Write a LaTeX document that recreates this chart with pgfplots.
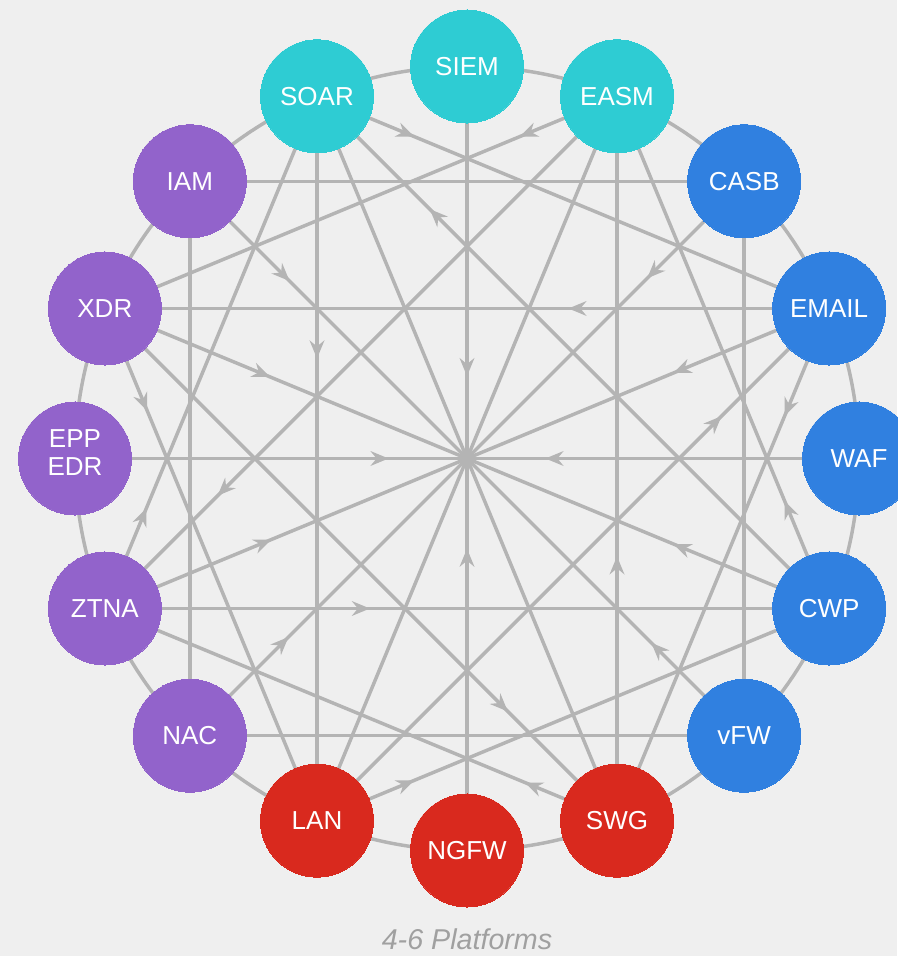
\documentclass[border=0pt]{standalone}
\usepackage{fontspec}
\setmainfont{Liberation Sans}
\usepackage{pgfplots}
\pgfplotsset{compat=1.18}
\usetikzlibrary{decorations.markings, arrows.meta}
\definecolor{bgc}{HTML}{EFEFEF}
\definecolor{edgec}{HTML}{B4B4B4}
\definecolor{teal1}{HTML}{2ECCD3}
\definecolor{blue1}{HTML}{3080E0}
\definecolor{red1}{HTML}{D9291E}
\definecolor{purp1}{HTML}{9263CB}
\definecolor{titlec}{HTML}{A0A0A0}
\newcommand{\eppedr}{EPP\\EDR\rule[-9pt]{0pt}{9pt}}
\begin{document}
\begin{tikzpicture}[x=1pt,y=1pt]
\fill[bgc] (0,0) rectangle (672.75,717);
\begin{axis}[at={(0,0)}, anchor=south west,
  width=672.75pt, height=717pt, scale only axis, hide axis,
  xmin=-1.19133, xmax=1.09694, ymin=-1.26913, ymax=1.16964, clip=false,
  ln/.style={color=edgec, line width=2.6pt},
  arr/.style={postaction={decorate}, decoration={markings, mark=at position #1 with {\arrow[edgec]{Stealth[length=13.5pt,width=11pt,inset=4.5pt]}}}},
  gnode/.style={only marks, mark=*, mark size=42.4pt,
    mark options={fill=#1, draw=#1, line width=0pt},
    point meta=explicit symbolic, nodes near coords,
    every node near coord/.append style={anchor=center, text=white, align=center,
      font=\fontsize{19.5pt}{21pt}\selectfont, inner sep=0pt}},
]
% radial lines (node -> hub)
\addplot[ln, arr=0.79] coordinates {(0,1) (0,0)};                 % SIEM
\addplot[ln] coordinates {(0.38268,0.92388) (0,0)};                % EASM
\addplot[ln, arr=0.35] coordinates {(0.70711,0.70711) (0,0)};      % CASB
\addplot[ln, arr=0.43] coordinates {(0.92388,0.38268) (0,0)};      % EMAIL
\addplot[ln, arr=0.80] coordinates {(1,0) (0,0)};                  % WAF
\addplot[ln, arr=0.43] coordinates {(0.92388,-0.38268) (0,0)};     % CWP
\addplot[ln, arr=0.335] coordinates {(0.70711,-0.70711) (0,0)};    % vFW
\addplot[ln] coordinates {(0.38268,-0.92388) (0,0)};               % SWG
\addplot[ln, arr=0.77] coordinates {(0,-1) (0,0)};                 % NGFW
\addplot[ln] coordinates {(-0.38268,-0.92388) (0,0)};              % LAN
\addplot[ln, arr=0.356] coordinates {(-0.70711,-0.70711) (0,0)};   % NAC
\addplot[ln, arr=0.46] coordinates {(-0.92388,-0.38268) (0,0)};    % ZTNA
\addplot[ln, arr=0.80] coordinates {(-1,0) (0,0)};                 % EPP/EDR
\addplot[ln, arr=0.456] coordinates {(-0.92388,0.38268) (0,0)};    % XDR
\addplot[ln, arr=0.36] coordinates {(-0.70711,0.70711) (0,0)};     % IAM
\addplot[ln] coordinates {(-0.38268,0.92388) (0,0)};               % SOAR
% square IAM-CASB-vFW-NAC (no arrows)
\addplot[ln] coordinates {(-0.70711,0.70711) (0.70711,0.70711)};
\addplot[ln] coordinates {(0.70711,0.70711) (0.70711,-0.70711)};
\addplot[ln] coordinates {(0.70711,-0.70711) (-0.70711,-0.70711)};
\addplot[ln] coordinates {(-0.70711,-0.70711) (-0.70711,0.70711)};
% step-4 chords with arrows
\addplot[ln, arr=0.19] coordinates {(-0.38268,0.92388) (0.92388,0.38268)};   % SOAR->EMAIL
\addplot[ln, arr=0.19] coordinates {(0.38268,0.92388) (-0.92388,0.38268)};   % EASM->XDR
\addplot[ln, arr=0.20] coordinates {(-0.92388,0.38268) (-0.38268,-0.92388)}; % XDR->LAN
\addplot[ln, arr=0.196] coordinates {(-0.92388,-0.38268) (-0.38268,0.92388)};% ZTNA->SOAR
\addplot[ln, arr=0.21] coordinates {(0.92388,0.38268) (0.38268,-0.92388)};   % EMAIL->SWG
\addplot[ln, arr=0.21] coordinates {(0.92388,-0.38268) (0.38268,0.92388)};   % CWP->EASM
\addplot[ln, arr=0.19] coordinates {(-0.38268,-0.92388) (0.92388,-0.38268)}; % LAN->CWP
\addplot[ln, arr=0.18] coordinates {(0.38268,-0.92388) (-0.92388,-0.38268)}; % SWG->ZTNA
% step-6 chords with arrows
\addplot[ln, arr=0.36] coordinates {(0.92388,0.38268) (-0.92388,0.38268)};   % EMAIL->XDR
\addplot[ln, arr=0.366] coordinates {(-0.92388,-0.38268) (0.92388,-0.38268)};% ZTNA->CWP
\addplot[ln, arr=0.365] coordinates {(0.38268,-0.92388) (0.38268,0.92388)};  % SWG->EASM
\addplot[ln, arr=0.362] coordinates {(-0.38268,0.92388) (-0.38268,-0.92388)};% SOAR->LAN
\addplot[ln, arr=0.78] coordinates {(0.92388,-0.38268) (-0.38268,0.92388)};  % CWP->SOAR
\addplot[ln, arr=0.78] coordinates {(0.38268,0.92388) (-0.92388,-0.38268)};  % EASM->ZTNA
\addplot[ln, arr=0.79] coordinates {(-0.38268,-0.92388) (0.92388,0.38268)};  % LAN->EMAIL
\addplot[ln, arr=0.787] coordinates {(-0.92388,0.38268) (0.38268,-0.92388)}; % XDR->SWG
% outer ring
\draw[edgec, line width=2.6pt] (axis cs:0,0) circle[radius=1];
% nodes
\addplot[gnode=teal1] coordinates {(0,1) [SIEM] (0.38268,0.92388) [EASM] (-0.38268,0.92388) [SOAR]};
\addplot[gnode=blue1] coordinates {(0.70711,0.70711) [CASB] (0.92388,0.38268) [EMAIL] (1,0) [WAF] (0.92388,-0.38268) [CWP] (0.70711,-0.70711) [vFW]};
\addplot[gnode=red1] coordinates {(0.38268,-0.92388) [SWG] (0,-1) [NGFW] (-0.38268,-0.92388) [LAN]};
\addplot[gnode=purp1] coordinates {(-0.70711,-0.70711) [NAC] (-0.92388,-0.38268) [ZTNA] (-1,0) [\eppedr] (-0.92388,0.38268) [XDR] (-0.70711,0.70711) [IAM]};
\node[text=titlec, font=\fontsize{21.5pt}{24pt}\selectfont\itshape] at (axis cs:0,-1.226) {4-6 Platforms};
\end{axis}
\pgfresetboundingbox
\path (0,0) rectangle (672.75,717);
\end{tikzpicture}
\end{document}
